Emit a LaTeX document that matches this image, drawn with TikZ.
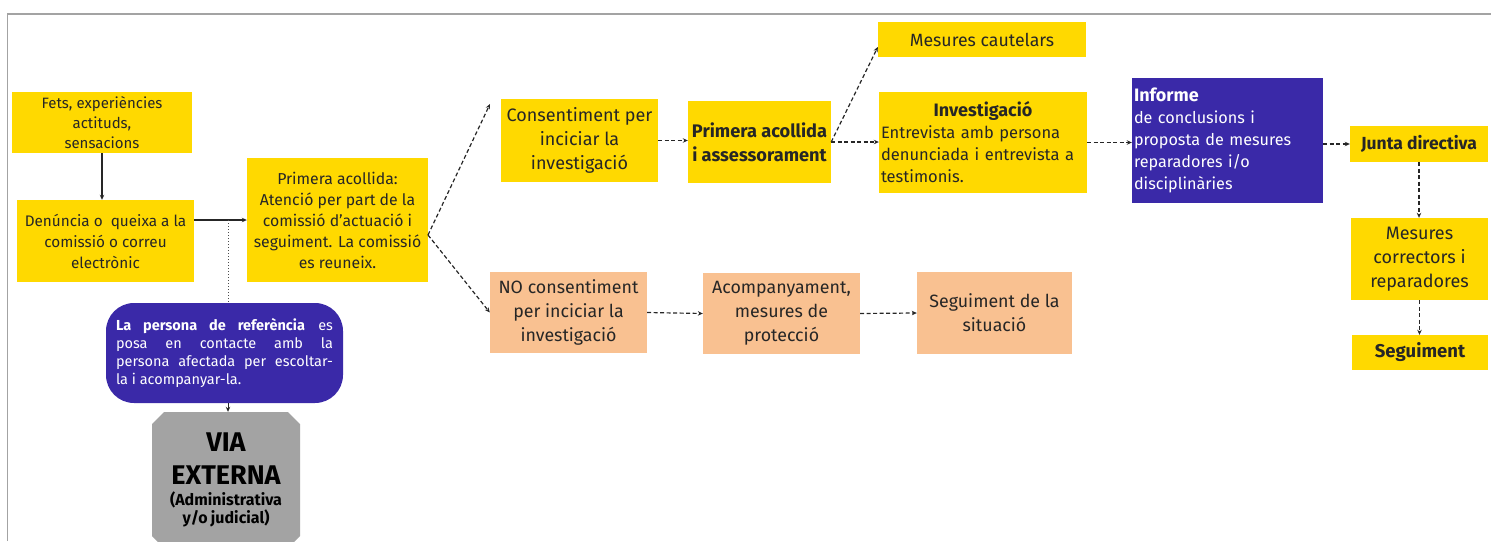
\documentclass[tikz,border=0pt]{standalone}
\usepackage{fontspec}
\setmainfont{Fira Sans}
\usetikzlibrary{arrows.meta,shapes.misc}
\definecolor{groc}{RGB}{255,217,0}
\definecolor{preseg}{RGB}{249,193,145}
\definecolor{lila}{RGB}{58,41,168}
\definecolor{gris}{RGB}{163,163,163}
\begin{document}
\begin{tikzpicture}[x=1pt,y=-1pt,
    caixa/.style={fill=groc,text=black!85,inner sep=2pt,align=center},
    salmo/.style={caixa,fill=preseg,minimum width=157pt,minimum height=81pt,font=\fontsize{17.8}{24}\selectfont},
    morat/.style={fill=lila,text=white,inner sep=2pt},
    fletxa/.style={-{Stealth[length=5pt,width=4.5pt]},line width=1.2pt,black!85},
    discont/.style={fletxa,dash pattern=on 4pt off 2.5pt}]
    \useasboundingbox (0,0) rectangle (1491,541);
    \clip (0,0) rectangle (1491,541);
    \draw[gris,line width=1.5pt] (7.5,541) -- (7.5,14) -- (1491,14);

    \node[caixa,minimum width=180pt,minimum height=61pt,font=\fontsize{15}{20}\selectfont] (fets) at (102,122.5) {Fets, experiències\\actituds,\\sensacions};
    \node[caixa,minimum width=177pt,minimum height=82pt,font=\fontsize{15.3}{21}\selectfont] (denuncia) at (105.5,241) {Denúncia o~ queixa a la\\comissió o correu\\electrònic};
    \node[caixa,minimum width=181pt,minimum height=124pt,font=\fontsize{15.8}{21}\selectfont] (acollida) at (337.5,220) {Primera acollida:\\Atenció per part de la\\comissió d’actuació i\\seguiment. La comissió\\es reuneix.};
    \node[morat,rounded corners=28pt,minimum width=237pt,minimum height=100pt,text width=217pt,align=justify,font=\fontsize{14.5}{18}\selectfont] (referencia) at (224.5,353) {\hyphenpenalty=10000 \textbf{La persona de referència} es\linebreak posa en contacte amb la\linebreak persona afectada per escoltar-\linebreak la i acompanyar-la.};
    \node[fill=gris,chamfered rectangle,chamfered rectangle xsep=6pt,chamfered rectangle ysep=6pt,minimum width=138pt,minimum height=136pt,inner sep=0pt,text width=136pt,align=center,font=\bfseries] (via) at (226,480) {{\fontsize{27}{33}\selectfont VIA\\EXTERNA\par}\fontsize{16}{21}\selectfont (Administrativa\\y/o judicial)};

    \node[caixa,minimum width=157pt,minimum height=83pt,font=\fontsize{18}{24}\selectfont] (consent) at (579.5,140.5) {Consentiment per\\inciciar la\\investigació};
    \node[caixa,minimum width=143pt,minimum height=82pt,font=\fontsize{18.2}{24}\selectfont\bfseries] (assess) at (759.5,142) {Primera acollida\\i assessorament};
    \node[caixa,minimum width=208pt,minimum height=35pt,font=\fontsize{17.7}{20}\selectfont] (cautelars) at (982,39.5) {Mesures cautelars};
    \node[caixa,minimum width=208pt,minimum height=101pt,text width=204pt,align=left,font=\fontsize{16.5}{22}\selectfont] (investig) at (983,142.5) {\makebox[204pt][c]{\fontsize{18}{22}\selectfont\bfseries Investigació}\\Entrevista amb persona\\denunciada i entrevista a\\testimonis.};
    \node[morat,minimum width=191pt,minimum height=125pt,text width=187pt,align=left,font=\fontsize{16.2}{22}\selectfont] (informe) at (1227.5,140.5) {{\fontsize{18}{22}\selectfont\bfseries Informe}\\de conclusions i\\proposta de mesures\\reparadores i/o\\disciplinàries};
    \node[caixa,minimum width=138pt,minimum height=36pt,font=\fontsize{17.5}{20}\selectfont\bfseries] (junta) at (1419,144) {Junta directiva};
    \node[caixa,minimum width=137pt,minimum height=82pt,font=\fontsize{18}{24}\selectfont] (correctors) at (1419.5,259) {Mesures\\correctors i\\reparadores};
    \node[caixa,minimum width=136pt,minimum height=35pt,font=\fontsize{18.5}{20}\selectfont\bfseries] (seguiment) at (1420,352.5) {Seguiment};

    \node[salmo] (nocons) at (568.5,312.5) {NO consentiment\\per inciciar la\\investigació};
    \node[salmo] (acompany) at (781.5,313.5) {Acompanyament,\\mesures de\\protecció};
    \node[salmo,minimum width=155pt,minimum height=82pt] (situacio) at (994.5,313) {Seguiment de la\\situació};

    \coordinate (branca) at (228,220);
    \coordinate (bifurca) at (428,235);
    \coordinate (amunt) at (490,104);

    \draw[fletxa] (fets.south) -- (fets.south |- denuncia.north);
    \draw[fletxa] (denuncia.east |- acollida.west) -- (acollida.west);
    \draw[black!70,line width=1pt,dotted] (branca) -- (branca |- referencia.north);
    \draw[fletxa,line width=0.8pt] (branca |- referencia.south) -- (branca |- via.north);

    \draw[discont] (bifurca) -- (amunt);
    \draw[discont] (bifurca) -- (nocons.west);
    \draw[discont] (consent.east) -- (consent.east -| assess.west);
    \draw[discont] (assess.east) -- ([yshift=-7.5pt]cautelars.west);
    \draw[discont] (assess.east) -- (assess.east -| investig.west);
    \draw[discont] (investig.east) -- (investig.east -| informe.west);
    \draw[discont] (informe.east |- junta.west) -- (junta.west);
    \draw[discont] (junta.south) -- (junta.south |- correctors.north);
    \draw[discont] (correctors.south) -- (correctors.south |- seguiment.north);
    \draw[discont] (nocons.east) -- (acompany.west);
    \draw[discont] (acompany.east) -- (situacio.west);
\end{tikzpicture}
\end{document}
